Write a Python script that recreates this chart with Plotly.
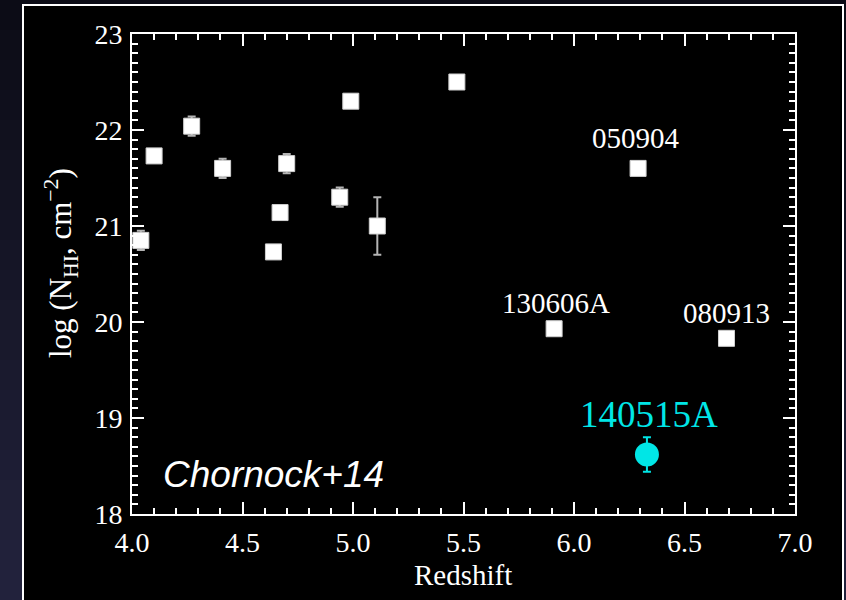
import plotly.graph_objects as go

# ---- data ----
redshift = [4.04, 4.10, 4.27, 4.41, 4.64, 4.67, 4.70, 4.94, 4.99, 5.11, 5.47, 5.91, 6.29, 6.69]
log_nhi = [20.85, 21.73, 22.04, 21.60, 20.73, 21.14, 21.65, 21.30, 22.30, 21.00, 22.50, 19.93, 21.60, 19.83]
log_nhi_err = [0.10, 0.0, 0.10, 0.10, 0.0, 0.0, 0.10, 0.10, 0.0, 0.30, 0.0, 0.0, 0.0, 0.0]
grb_names = ["", "", "", "", "", "", "", "", "", "", "", "130606A", "050904", "080913"]

new_z = [6.33]
new_nhi = [18.62]
new_err = [0.18]
new_name = ["140515A"]

x_ticks = [4.0, 4.5, 5.0, 5.5, 6.0, 6.5, 7.0]
x_ticklabels = ["4.0", "4.5", "5.0", "5.5", "6.0", "6.5", "7.0"]
y_ticks = [18, 19, 20, 21, 22, 23]
y_ticklabels = ["18", "19", "20", "21", "22", "23"]

# ---- layout geometry ----
W, H = 846, 600
L, R, T, B = 132, 795, 34, 514
pw, ph = R - L, B - T


def px(xp):
    return (xp - L) / pw


def py(yp):
    return (B - yp) / ph


serif = "Liberation Serif, Times New Roman, serif"
cyan = "#00e6e6"
page_bg = "rgb(20,20,38)"

fig = go.Figure()

fig.add_trace(go.Scatter(
    x=redshift, y=log_nhi, mode="markers",
    marker=dict(symbol="square", size=16, color="white",
                line=dict(color="#d0d0d0", width=1)),
    error_y=dict(type="data", array=log_nhi_err, visible=True,
                 color="#b4b4b4", thickness=2, width=4),
    showlegend=False, hoverinfo="skip",
))

fig.add_trace(go.Scatter(
    x=new_z, y=new_nhi, mode="markers",
    marker=dict(symbol="circle", size=24, color=cyan, line=dict(width=0)),
    error_y=dict(type="data", array=new_err, visible=True,
                 color=cyan, thickness=2, width=4),
    showlegend=False, hoverinfo="skip",
))

annotations = []
label_shift = {"130606A": (2, 26), "050904": (-2, 30), "080913": (0, 25)}
for z, n, name in zip(redshift, log_nhi, grb_names):
    if name:
        dx, dy = label_shift[name]
        annotations.append(dict(x=z, y=n, xref="x", yref="y", text=name,
                                showarrow=False, xshift=dx, yshift=dy,
                                font=dict(family=serif, size=29, color="white")))
for z, n, name in zip(new_z, new_nhi, new_name):
    annotations.append(dict(x=z, y=n, xref="x", yref="y", text=name,
                            showarrow=False, xshift=2, yshift=40,
                            font=dict(family=serif, size=37, color=cyan)))

annotations.append(dict(x=px(273), y=py(474), xref="paper", yref="paper",
                        text="<i>Chornock+14</i>", showarrow=False,
                        xanchor="center", yanchor="middle",
                        font=dict(family="Liberation Sans, Arial, sans-serif",
                                  size=37, color="white")))
annotations.append(dict(x=px(463), y=py(575), xref="paper", yref="paper",
                        text="Redshift", showarrow=False,
                        xanchor="center", yanchor="middle",
                        font=dict(family=serif, size=29, color="white")))
annotations.append(dict(x=px(61), y=py(263), xref="paper", yref="paper",
                        text="log (N<sub>HI</sub>, cm<sup>\u22122</sup>)",
                        showarrow=False, textangle=-90,
                        xanchor="center", yanchor="middle",
                        font=dict(family=serif, size=31, color="white")))

# background gradient bands + black panel
shapes = []
nb = 20
top_c = (12, 12, 22)
bot_c = (34, 34, 60)
for i in range(nb):
    f = i / (nb - 1)
    c = tuple(int(round(top_c[k] + (bot_c[k] - top_c[k]) * f)) for k in range(3))
    y0p = H * i / nb
    y1p = H * (i + 1) / nb + 1
    shapes.append(dict(type="rect", xref="paper", yref="paper", layer="below",
                       x0=px(0), x1=px(W), y0=py(y1p), y1=py(y0p),
                       fillcolor="rgb(%d,%d,%d)" % c, line=dict(width=0)))
shapes.append(dict(type="rect", xref="paper", yref="paper", layer="below",
                   x0=px(23), x1=px(843), y0=py(615), y1=py(5),
                   fillcolor="black", line=dict(color="white", width=2)))

axis_common = dict(
    showline=True, linecolor="white", linewidth=2, mirror="ticks",
    ticks="inside", ticklen=12, tickwidth=2, tickcolor="white",
    showgrid=False, zeroline=False,
    tickfont=dict(family=serif, size=28, color="white"),
)

fig.update_layout(
    width=W, height=H,
    margin=dict(l=L, r=W - R, t=T, b=H - B, pad=0),
    paper_bgcolor=page_bg, plot_bgcolor="black",
    xaxis=dict(range=[4.0, 7.0], tickmode="array", tickvals=x_ticks,
               ticktext=x_ticklabels, ticklabelstandoff=2,
               minor=dict(dtick=0.1, ticks="inside", ticklen=6, tickwidth=2,
                          tickcolor="white", showgrid=False),
               **axis_common),
    yaxis=dict(range=[18, 23], tickmode="array", tickvals=y_ticks,
               ticktext=y_ticklabels, ticklabelstandoff=2,
               minor=dict(dtick=0.1, ticks="inside", ticklen=6, tickwidth=2,
                          tickcolor="white", showgrid=False),
               **axis_common),
    annotations=annotations,
    shapes=shapes,
    showlegend=False,
)

fig.write_html(
    "out.html",
    config={"displayModeBar": False},
    post_script="document.body.style.margin='0';"
                "document.body.style.overflow='hidden';"
                "document.body.style.background='rgb(20,20,38)';",
)
